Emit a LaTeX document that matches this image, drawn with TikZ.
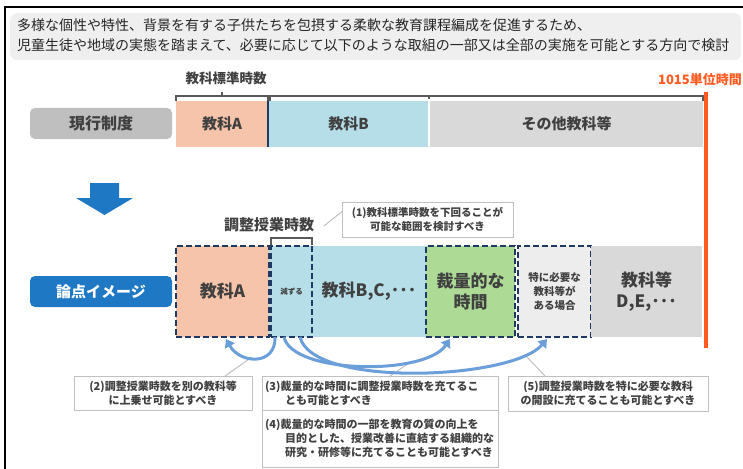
\documentclass[tikz,border=0pt]{standalone}
\usepackage{fontspec}
\setmainfont{Noto Sans CJK JP}
\usetikzlibrary{arrows.meta,calc}
\definecolor{txt}{HTML}{404040}
\definecolor{titlebg}{HTML}{EFEFEF}
\definecolor{peach}{HTML}{F6C4AA}
\definecolor{lblue}{HTML}{B6DEE8}
\definecolor{lgray}{HTML}{D9D9D9}
\definecolor{vlgray}{HTML}{EDEDED}
\definecolor{green1}{HTML}{ADDB96}
\definecolor{navy}{HTML}{203864}
\definecolor{orng}{HTML}{FF5A1F}
\definecolor{bblue}{HTML}{1F78C4}
\definecolor{labgray}{HTML}{BFBFBF}
\definecolor{arrowblue}{HTML}{6A9FDA}
\definecolor{leader}{HTML}{C0C0C0}
\definecolor{brk}{HTML}{595959}
\begin{document}
\begin{tikzpicture}[x=1pt,y=-1pt,
  box/.style={inner sep=0pt, outer sep=0pt, anchor=north west, text=txt, align=center},
  dbox/.style={box, draw=navy, line width=2.2pt, dash pattern=on 6pt off 3pt},
  callout/.style={draw=leader, line width=1pt, fill=white, inner sep=0pt, outer sep=0pt, anchor=north west, text=txt,
     font=\fontsize{11}{14}\selectfont\bfseries},
  lead/.style={draw=leader, line width=1pt},
  carrow/.style={draw=arrowblue, line width=3pt, -{Triangle[length=8pt,width=11pt]}},
  brack/.style={draw=brk, line width=1.3pt},
  tag/.style={rounded corners=5pt, inner sep=0pt, outer sep=0pt, minimum width=142pt, minimum height=31pt,
     font=\fontsize{16}{18}\selectfont\bfseries}
]
\useasboundingbox (0,0) rectangle (743,468);
% frame
\draw[line width=1.5pt] (5,7) rectangle (760,490);
% title
\node[fill=titlebg, rounded corners=7pt, minimum width=731pt, minimum height=47pt, anchor=north west, inner sep=0pt] (title) at (10,13) {};
\node[anchor=west, inner sep=0pt, text=black!85, font=\fontsize{14}{16}\selectfont] (t1) at (17,25) {多様な個性や特性、背景を有する子供たちを包摂する柔軟な教育課程編成を促進するため、};
\node[anchor=west, inner sep=0pt, text=black!85, font=\fontsize{14}{16}\selectfont] (t2) at (17,45) {児童生徒や地域の実態を踏まえて、必要に応じて以下のような取組の一部又は全部の実施を可能とする方向で検討};

% row 1
\node[tag, fill=labgray, text=txt] (genko) at (101,123.5) {現行制度};
\node[box, fill=peach, minimum width=92pt, minimum height=46pt, font=\fontsize{15}{18}\selectfont\bfseries] (r1a) at (176,101) {教科A};
\node[box, fill=lblue, minimum width=159pt, minimum height=46pt, font=\fontsize{15}{18}\selectfont\bfseries] (r1b) at (269,101) {教科B};
\node[box, fill=lgray, minimum width=273pt, minimum height=46pt, font=\fontsize{15}{18}\selectfont\bfseries] (r1c) at (430,101) {その他教科等};
\draw[navy, line width=1.2pt] (r1a.north east) -- (r1a.south east);
% brackets row 1
\draw[brack] (r1a.north west) -- ([yshift=5pt]r1a.north west) -- ([yshift=5pt]r1a.north east) -- (r1a.north east);
\draw[brack] ([yshift=5pt]r1a.north) -- ([yshift=9pt]r1a.north);
\draw[brack] ([xshift=1pt]r1b.north west) -- ([xshift=1pt,yshift=5pt]r1b.north west) -- ([yshift=5pt]r1c.north east) -- (r1c.north east);
\draw[brack] ([xshift=-1pt,yshift=5pt]r1c.north west) -- ([xshift=-1pt,yshift=2pt]r1c.north west);
\node[text=txt, font=\fontsize{13.5}{16}\selectfont\bfseries, inner sep=0pt] (kyouka) at (226,78) {教科標準時数};
\node[anchor=east, text=orng, font=\fontsize{13}{15}\selectfont\bfseries, inner sep=0pt] (u1015) at (742,80) {1015単位時間};
\coordinate (otop) at (706,92);
\coordinate (obot) at (706,348);
\draw[orng, line width=4pt] (otop) -- (obot);

% down arrow
\fill[bblue] (90,183) -- (119,183) -- (119,198) -- (133,198) -- (104.5,215) -- (76,198) -- (90,198) -- cycle;

% row 2
\node[tag, fill=bblue, text=white, font=\fontsize{15}{18}\selectfont\bfseries] (ronten) at (101,291.5) {論点イメージ};
\node[box, fill=lblue, minimum width=157pt, minimum height=91pt] (r2bg) at (269,246) {};
\node[dbox, fill=peach, minimum width=93pt, minimum height=91pt, font=\fontsize{17}{20}\selectfont\bfseries] (r2a) at (176,246) {教科A};
\node[dbox, minimum width=41pt, minimum height=91pt, font=\fontsize{7.5}{9}\selectfont\bfseries] (genzu) at (271,246) {減ずる};
\node[text=txt, font=\fontsize{17}{20}\selectfont\bfseries, inner sep=0pt] (r2b) at (369,291.5) {教科B,C,･･･};
\node[dbox, fill=green1, minimum width=89pt, minimum height=91pt, font=\fontsize{17}{21}\selectfont\bfseries] (sairyo) at (426,246) {裁量的な\\時間};
\node[dbox, fill=vlgray, minimum width=73pt, minimum height=91pt, font=\fontsize{10.5}{14}\selectfont\bfseries] (tokuni) at (518,246) {特に必要な\\教科等が\\ある場合};
\node[box, fill=lgray, minimum width=111pt, minimum height=91pt, font=\fontsize{17}{21}\selectfont\bfseries] (r2d) at (591,246) {教科等\\D,E,･･･};
% small bracket
\draw[brack] ([yshift=1pt]genzu.north west) -- ([yshift=8pt]genzu.north west) -- ([yshift=8pt]genzu.north east) -- ([yshift=1pt]genzu.north east);
\node[text=txt, font=\fontsize{15}{18}\selectfont\bfseries, inner sep=0pt] (chosei) at (269,225) {調整授業時数};

% callouts
\node[callout, minimum width=171pt, minimum height=35pt, font=\fontsize{10.5}{14}\selectfont\bfseries, align=center] (c1) at (342,202) {(1)教科標準時数を下回ることが\\可能な範囲を検討すべき};
\node[callout, minimum width=178pt, minimum height=34pt, align=center] (c2) at (74,376) {(2)調整授業時数を別の教科等\\に上乗せ可能とすべき};
\node[callout, minimum width=236pt, minimum height=34pt, text width=230pt, align=left] (c3) at (262,376) {(3)裁量的な時間に調整授業時数を充てるこ\\\hspace*{20pt}とも可能とすべき};
\node[callout, minimum width=236pt, minimum height=57pt, text width=230pt, align=left] (c4) at (262,410) {(4)裁量的な時間の一部を教育の質の向上を\\\hspace*{20pt}目的とした、授業改善に直結する組織的な\\\hspace*{20pt}研究・研修等に充てることも可能とすべき};
\node[callout, minimum width=200pt, minimum height=35pt, align=center] (c5) at (508,376) {(5)調整授業時数を特に必要な教科\\の開設に充てることも可能とすべき};

% leader lines
\coordinate (l1) at (324,226);
\draw[lead] ([yshift=8pt]c1.west) -- (l1);
\draw[lead] ([xshift=62pt]c2.north) -- (252,357);
\draw[lead] ([xshift=10pt]c3.north) -- (412,361);
\draw[lead] ([xshift=-63pt]c5.north) -- (527,357);

% curved arrows
\draw[carrow] ([xshift=-16.5pt]genzu.south) .. controls (276,366) and (240,364) .. ([xshift=3.5pt,yshift=-2pt]r2a.south);
\draw[carrow] ([xshift=-7.5pt]genzu.south) .. controls (292,374) and (425,376) .. ([xshift=-20.5pt,yshift=-2pt]sairyo.south);
\draw[carrow] ([xshift=8.5pt]genzu.south) .. controls (312,388) and (512,380) .. ([xshift=-7.5pt,yshift=-2pt]tokuni.south);
\end{tikzpicture}
\end{document}
